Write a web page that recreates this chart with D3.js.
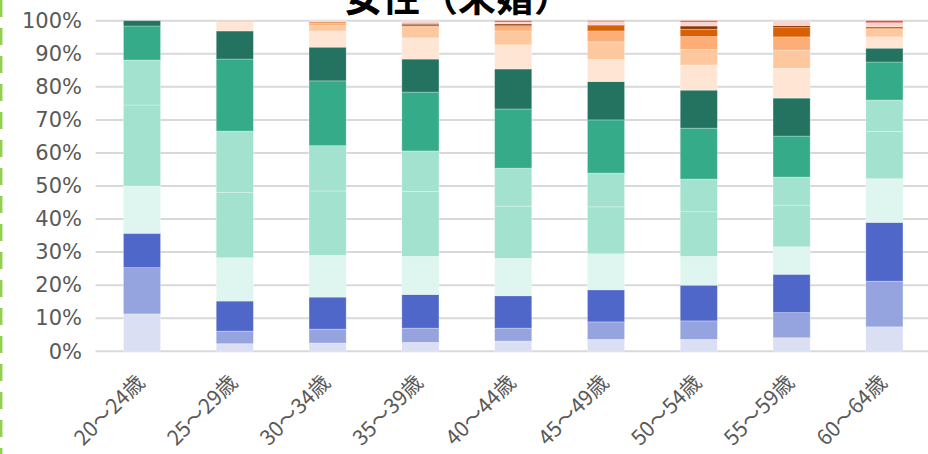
<!DOCTYPE html>
<html>
<head>
<meta charset="utf-8">
<script src="https://cdn.jsdelivr.net/npm/d3@7"></script>
<style>
  body { margin: 0; background: #fff; }
  svg { display: block; }
</style>
</head>
<body>
<div id="container"></div>
<script>
"use strict";

const width = 928;
const height = 454;

const title = "女性（未婚）";

const ageGroups = ["20～24歳", "25～29歳", "30～34歳", "35～39歳", "40～44歳", "45～49歳", "50～54歳", "55～59歳", "60～64歳"];

// share of each band (%) per age group, bottom to top
const band01 = [11.3, 2.3, 2.5, 2.7, 3.1, 3.6, 3.6, 4.1, 7.4];
const band02 = [14.0, 3.8, 4.2, 4.3, 3.9, 5.3, 5.6, 7.6, 13.8];
const band03 = [10.4, 9.1, 9.7, 10.2, 9.8, 9.7, 10.8, 11.6, 17.8];
const band04 = [14.3, 13.1, 12.6, 11.5, 11.3, 10.9, 8.7, 8.3, 13.2];
const band05 = [24.5, 19.7, 19.5, 19.7, 15.8, 14.2, 13.5, 12.6, 14.3];
const band06 = [13.6, 18.6, 13.7, 12.2, 11.5, 10.2, 9.9, 8.5, 9.5];
const band07 = [10.3, 21.8, 19.6, 17.8, 17.9, 16.1, 15.4, 12.4, 11.5];
const band08 = [1.6, 8.5, 10.2, 10.0, 12.1, 11.6, 11.5, 11.5, 4.2];
const band09 = [0, 2.7, 4.9, 6.4, 7.3, 6.7, 7.6, 9.0, 3.4];
const band10 = [0, 0.4, 1.6, 3.5, 4.2, 5.3, 4.7, 5.5, 2.5];
const band11 = [0, 0, 0.8, 0, 1.3, 3.3, 3.9, 4.0, 0];
const band12 = [0, 0, 0.3, 0.5, 0.5, 1.6, 2.2, 2.8, 0.6];
const band13 = [0, 0, 0, 0.4, 0.4, 0.3, 1.0, 0.6, 0];
const band14 = [0, 0, 0.4, 0.8, 0.5, 0.9, 1.2, 1.5, 1.2];
const band15 = [0, 0, 0, 0, 0.4, 0.3, 0.4, 0, 0.6];

const bands = [band01, band02, band03, band04, band05, band06, band07, band08,
  band09, band10, band11, band12, band13, band14, band15];

const colors = [
  "#dadff3", "#95a3de", "#4f67c8",
  "#dff5ef", "#a2e2cf", "#a2e2cf", "#35ab8a", "#237360",
  "#fee5d4", "#fec89f", "#fdae76", "#d95f02", "#8c3a0a",
  "#fbd3cd", "#ee4535",
];

const yTicks = d3.range(0, 1.01, 0.1);

const plotLeft = 95.6;
const plotRight = 930.8;
const plotTop = 20.7;
const plotBottom = 351.3;

const keys = bands.map((_b, i) => "b" + i);
const rows = ageGroups.map((age, j) => {
  const row = { age };
  bands.forEach((b, i) => { row[keys[i]] = b[j]; });
  return row;
});

const stack = d3.stack().keys(keys).offset(d3.stackOffsetExpand);
const layers = stack(rows);

const x = d3.scaleBand()
  .domain(ageGroups)
  .range([plotLeft, plotRight])
  .paddingInner(0.6)
  .paddingOuter(0.3);

const y = d3.scaleLinear()
  .domain([0, 1])
  .range([plotBottom, plotTop]);

const svg = d3.select("#container")
  .append("svg")
  .attr("width", width)
  .attr("height", height);

// gridlines
svg.append("g")
  .selectAll("line")
  .data(yTicks)
  .enter()
  .append("line")
  .attr("x1", plotLeft)
  .attr("x2", width)
  .attr("y1", d => y(d))
  .attr("y2", d => y(d))
  .style("stroke", "#d9d9d9")
  .style("stroke-width", 2);

// bars
svg.append("g")
  .selectAll("g")
  .data(layers)
  .enter()
  .append("g")
  .attr("fill", (_d, i) => colors[i])
  .selectAll("rect")
  .data(d => d)
  .enter()
  .append("rect")
  .attr("x", d => x(d.data.age))
  .attr("width", x.bandwidth())
  .attr("y", d => y(d[1]))
  .attr("height", d => Math.max(0, y(d[0]) - y(d[1])))
  .style("stroke", "#ffffff")
  .style("stroke-opacity", 0.35)
  .style("stroke-width", 0.8);

// y labels
const yAxis = d3.axisLeft(y)
  .tickValues(yTicks)
  .tickFormat(d3.format(".0%"))
  .tickSize(0)
  .tickPadding(0);

svg.append("g")
  .attr("transform", "translate(82,0)")
  .call(yAxis)
  .call(g => g.select(".domain").remove())
  .selectAll("text")
  .style("font-family", "'DejaVu Sans', sans-serif")
  .style("font-size", "21px")
  .style("fill", "#595959");

// x labels
svg.append("g")
  .selectAll("text")
  .data(ageGroups)
  .enter()
  .append("text")
  .attr("transform", d => `translate(${x(d) + x.bandwidth() / 2 + 4},${384}) rotate(-45)`)
  .attr("text-anchor", "end")
  .style("font-family", "'Noto Sans CJK JP', sans-serif")
  .style("font-size", "21px")
  .style("fill", "#595959")
  .text(d => d);

// title
svg.append("text")
  .attr("x", 458)
  .attr("y", 11)
  .attr("text-anchor", "middle")
  .style("font-family", "'Noto Sans CJK JP', sans-serif")
  .style("font-weight", "bold")
  .style("font-size", "38px")
  .style("fill", "#000")
  .text(title);

// dashed selection edge on the left
svg.append("line")
  .attr("x1", 1.2)
  .attr("x2", 1.2)
  .attr("y1", 0)
  .attr("y2", height)
  .style("stroke", "#92d050")
  .style("stroke-width", 2.5)
  .style("stroke-dasharray", "17,11");
</script>
</body>
</html>
